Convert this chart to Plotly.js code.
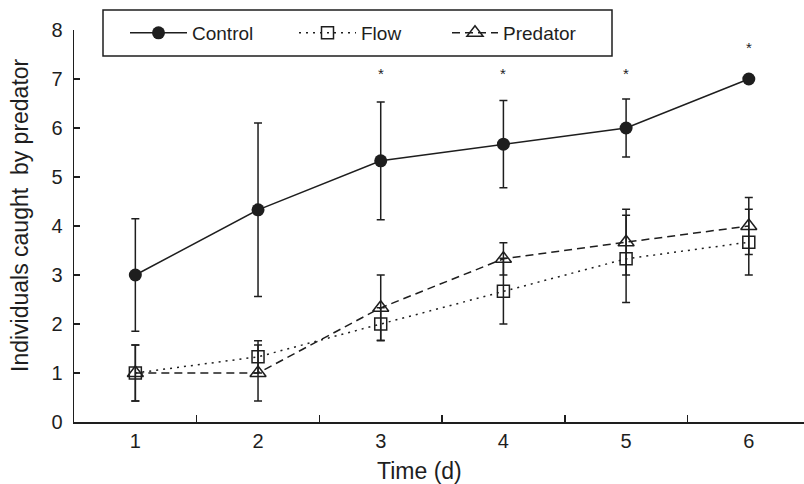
<!DOCTYPE html>
<html>
<head>
<meta charset="utf-8">
<script src="https://cdn.plot.ly/plotly-3.0.1.min.js"></script>
<style>html,body{margin:0;padding:0;background:#fff;}#chart{width:804px;height:484px;}</style>
</head>
<body>
<div id="chart"></div>
<script>
var days = [1, 2, 3, 4, 5, 6];
var controlMean = [3.0, 4.33, 5.33, 5.67, 6.0, 7.0];
var controlErr = [1.15, 1.77, 1.2, 0.89, 0.59, 0];
var flowMean = [1.0, 1.33, 2.0, 2.67, 3.33, 3.67];
var flowErr = [0.57, 0.33, 0.33, 0.67, 0.89, 0.67];
var predatorMean = [1.0, 1.0, 2.33, 3.33, 3.67, 4.0];
var predatorErr = [0.57, 0.57, 0.67, 0.33, 0.67, 0.58];
var sigDays = [3, 4, 5, 6];
var sigY = [7.12, 7.12, 7.12, 7.65];
var xTickVals = [1, 2, 3, 4, 5, 6];
var xTickText = ['1', '2', '3', '4', '5', '6'];
var xMinorVals = [1.5, 2.5, 3.5, 4.5, 5.5];
var yTickVals = [0, 1, 2, 3, 4, 5, 6, 7, 8];

var ink = '#1e1e1e';
var font = 'Liberation Sans, Arial, Helvetica, sans-serif';

var W = 804, H = 484, L = 74, R = 0, T = 30, B = 62;
var pw = W - L - R, ph = H - T - B;
function px(v) { return (v - L) / pw; }
function py(v) { return (H - B - v) / ph; }

function errSpec(arr) {
  return {type: 'data', array: arr, visible: true, color: ink, thickness: 1.5, width: 4};
}

var traces = [
  {x: days, y: controlMean, name: 'Control', type: 'scatter', mode: 'lines+markers', legend: 'legend',
   line: {color: ink, width: 1.5, dash: 'solid'},
   marker: {symbol: 'circle', size: 13, color: ink},
   error_y: errSpec(controlErr)},
  {x: days, y: flowMean, name: 'Flow', type: 'scatter', mode: 'lines+markers', legend: 'legend2',
   line: {color: ink, width: 1.5, dash: '2px,5px'},
   marker: {symbol: 'square-open', size: 12, color: ink, line: {width: 1.5, color: ink}},
   error_y: errSpec(flowErr)},
  {x: days, y: predatorMean, name: 'Predator', type: 'scatter', mode: 'lines+markers', legend: 'legend3',
   line: {color: ink, width: 1.5, dash: '8px,5px'},
   marker: {symbol: 'triangle-up-open', size: 14, color: ink, line: {width: 1.5, color: ink}},
   error_y: errSpec(predatorErr)}
];

var annotations = sigDays.map(function (d, i) {
  return {x: d, y: sigY[i], xref: 'x', yref: 'y', text: '*', showarrow: false,
          font: {family: font, size: 15, color: ink}};
});
annotations.push({x: px(419), y: py(471), xref: 'paper', yref: 'paper', text: 'Time (d)', showarrow: false,
  xanchor: 'center', yanchor: 'middle', font: {family: font, size: 23, color: ink}});
annotations.push({x: px(20), y: py(215), xref: 'paper', yref: 'paper', text: 'Individuals caught  by predator',
  textangle: -90, showarrow: false, xanchor: 'center', yanchor: 'middle',
  font: {family: font, size: 23, color: ink}});

function legendAt(xpix, iw) {
  return {orientation: 'h', x: px(xpix), y: py(33), xanchor: 'left', yanchor: 'middle',
          bgcolor: 'rgba(0,0,0,0)', borderwidth: 0, itemwidth: iw,
          font: {family: font, size: 19, color: ink}};
}

var layout = {
  width: W, height: H,
  margin: {l: L, r: R, t: T, b: B, pad: 0},
  paper_bgcolor: '#fff', plot_bgcolor: '#fff',
  font: {family: font, color: ink, size: 20},
  showlegend: true,
  legend: legendAt(125, 57),
  legend2: legendAt(294, 57),
  legend3: legendAt(447, 46),
  xaxis: {range: [0.5, 6.45], showgrid: false, zeroline: false, showline: true,
          linecolor: ink, linewidth: 1.5, tickmode: 'array', tickvals: xTickVals, ticktext: xTickText,
          ticks: '', tickfont: {family: font, size: 20, color: ink},
          minor: {tickmode: 'array', tickvals: xMinorVals, ticks: 'inside', ticklen: 7, tickwidth: 1.5,
                  tickcolor: ink, showgrid: false}},
  yaxis: {range: [0, 8], showgrid: false, zeroline: false, showline: true,
          linecolor: ink, linewidth: 1.5, tickmode: 'array', tickvals: yTickVals,
          ticks: 'inside', ticklen: 6, tickwidth: 1.5, tickcolor: ink, ticklabelstandoff: 6,
          tickfont: {family: font, size: 20, color: ink}},
  shapes: [{type: 'rect', xref: 'paper', yref: 'paper', x0: px(103), x1: px(612), y0: py(56), y1: py(10),
            line: {color: ink, width: 1.5}, fillcolor: 'rgba(0,0,0,0)'}],
  annotations: annotations
};

Plotly.newPlot('chart', traces, layout, {displayModeBar: false, staticPlot: true});
</script>
</body>
</html>
